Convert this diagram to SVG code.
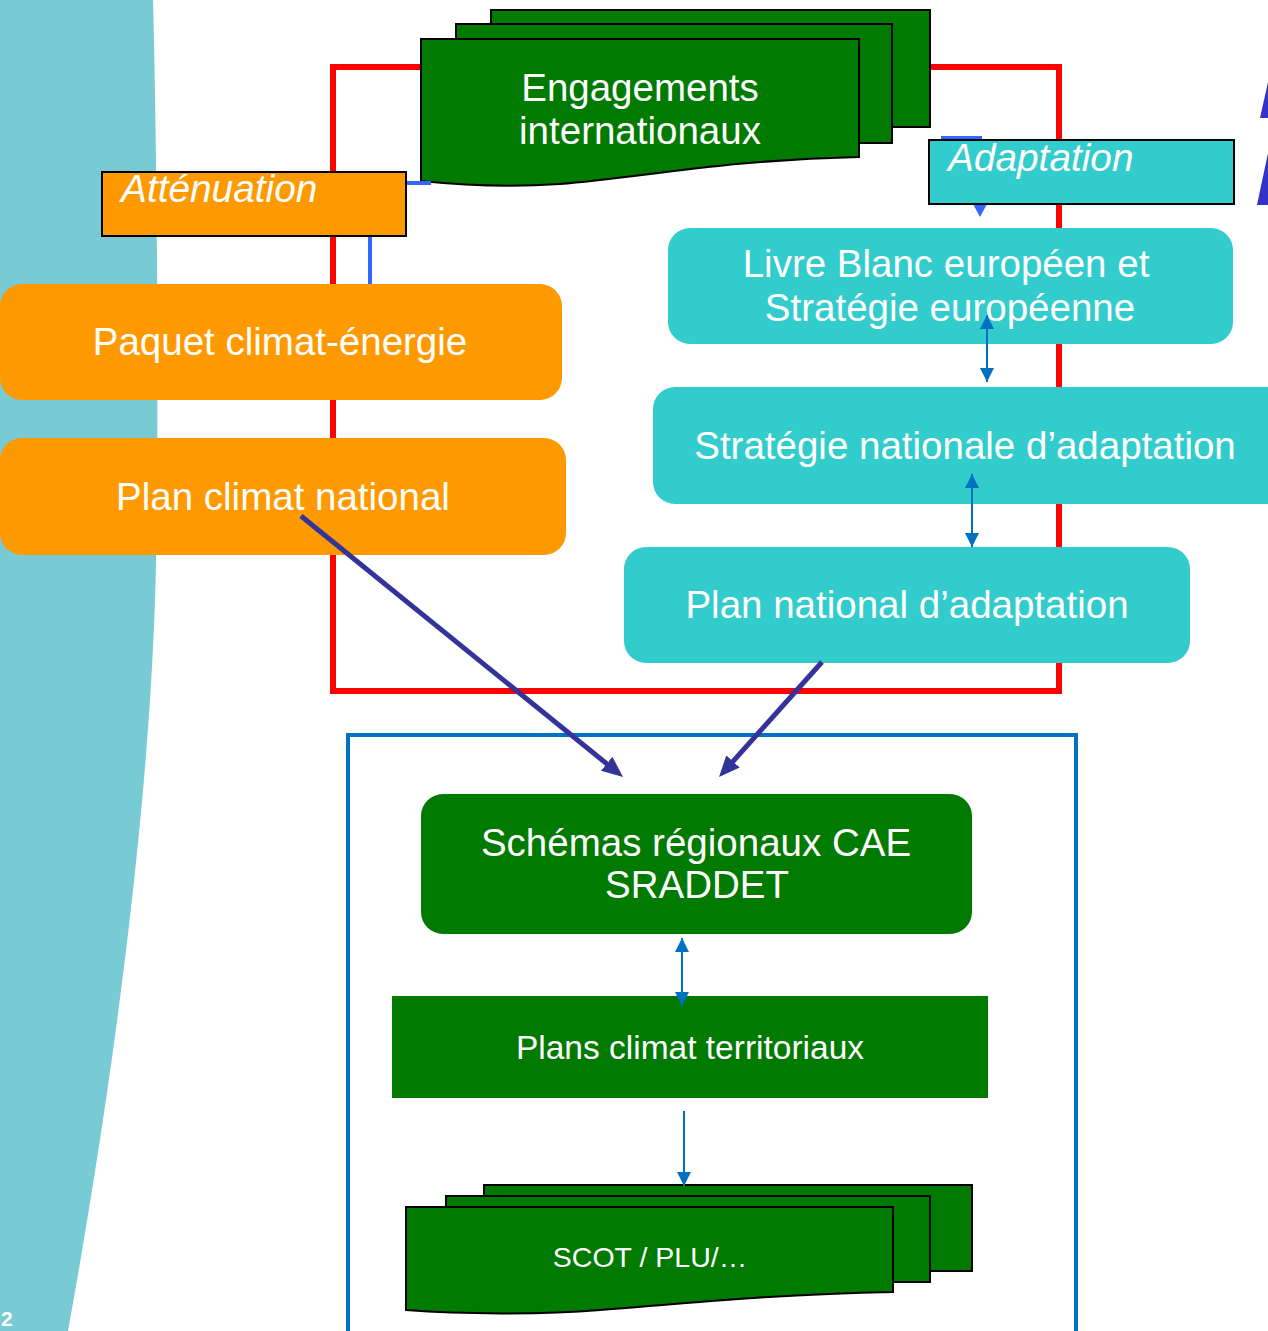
<svg xmlns="http://www.w3.org/2000/svg" width="1268" height="1331" viewBox="0 0 1268 1331">
<defs>
<style>
text{font-family:"Liberation Sans",Arial,sans-serif;fill:#fff}
.t38{font-size:38.5px}
.lbl{font-size:38.8px;font-style:italic}
.orange{fill:#FF9900}
.cyan{fill:#33CCCC}
.green{fill:#007A00}
.card{fill:#007A00;stroke:#000;stroke-width:2}
.thin{stroke:#0070C0;stroke-width:2;fill:none}
.dark{stroke:#333399;stroke-width:5;fill:none}
.elbow{stroke:#3366FF;stroke-width:4;fill:none}
</style>
<marker id="mThin" markerUnits="userSpaceOnUse" markerWidth="14" markerHeight="14" refX="14" refY="7" orient="auto-start-reverse"><path d="M0,0 L14,7 L0,14 Z" fill="#0070C0"/></marker>
<marker id="mDark" markerUnits="userSpaceOnUse" markerWidth="22" markerHeight="18" refX="9" refY="9" orient="auto"><path d="M0,0 L21,9 L0,18 Z" fill="#333399"/></marker>
<marker id="mElbow" markerUnits="userSpaceOnUse" markerWidth="14" markerHeight="14" refX="1" refY="7" orient="auto"><path d="M0,0 L13,7 L0,14 Z" fill="#3366FF"/></marker>
</defs>
<rect width="1268" height="1331" fill="#fff"/>
<g id="background">
<path d="M0,0 L153,0 C157,150 159,400 156,560 C152,800 110,1100 68,1331 L0,1331 Z" fill="#78CAD4"/>
<text x="1" y="1326" style="font-size:21px;font-weight:bold">2</text>
<polygon points="1260,118 1268,82 1268,118" fill="#3333CC"/>
<polygon points="1257,205 1268,153 1268,205" fill="#3333CC"/>
</g>
<g id="frame-national">
<rect x="333" y="67" width="726" height="624" fill="none" stroke="#FF0000" stroke-width="6"/>
</g>
<g id="frame-territorial">
<rect x="348" y="735" width="728" height="620" fill="none" stroke="#0070C0" stroke-width="4"/>
</g>
<g id="engagements">
<rect class="card" x="491" y="10" width="439" height="117"/>
<rect class="card" x="456" y="24" width="436" height="119"/>
<path class="card" d="M421,39 H859 V157 C720,160 640,178 560,184 C500,188 450,184 421,181 Z"/>
<text class="t38" x="640" y="101" text-anchor="middle">Engagements</text>
<text class="t38" x="640" y="144" text-anchor="middle">internationaux</text>
</g>
<g id="paquet">
<rect class="orange" x="0" y="284" width="562" height="116" rx="22"/>
<text class="t38" x="280" y="355" text-anchor="middle">Paquet climat-énergie</text>
</g>
<g id="plan-climat">
<rect class="orange" x="0" y="438" width="566" height="117" rx="22"/>
<text class="t38" x="283" y="510" text-anchor="middle">Plan climat national</text>
</g>
<g id="livre-blanc">
<rect class="cyan" x="668" y="228" width="565" height="116" rx="22"/>
<text class="t38" x="946" y="277" text-anchor="middle">Livre Blanc européen et</text>
<text class="t38" x="950" y="321" text-anchor="middle">Stratégie européenne</text>
</g>
<g id="strategie-nationale">
<rect class="cyan" x="653" y="387" width="640" height="117" rx="22"/>
<text class="t38" x="965" y="459" text-anchor="middle">Stratégie nationale d’adaptation</text>
</g>
<g id="plan-national">
<rect class="cyan" x="624" y="547" width="566" height="116" rx="22"/>
<text class="t38" x="907" y="618" text-anchor="middle">Plan national d’adaptation</text>
</g>
<g id="schemas">
<rect class="green" x="421" y="794" width="551" height="140" rx="22"/>
<text class="t38" x="696" y="856" text-anchor="middle">Schémas régionaux CAE</text>
<text class="t38" x="697" y="898" text-anchor="middle">SRADDET</text>
</g>
<g id="plans-territoriaux">
<rect class="green" x="392" y="996" width="596" height="102"/>
<text x="690" y="1059" text-anchor="middle" style="font-size:33.5px">Plans climat territoriaux</text>
</g>
<g id="scot">
<rect class="card" x="484" y="1185" width="488" height="86"/>
<rect class="card" x="446" y="1196" width="484" height="86"/>
<path class="card" d="M406,1207 H893 V1292 C780,1294 700,1302 600,1310 C540,1315 460,1314 406,1310 Z"/>
<text x="650" y="1267" text-anchor="middle" style="font-size:28.5px">SCOT / PLU/…</text>
</g>
<g id="connectors">
<path class="elbow" d="M431,183 H370 V284"/>
<path class="elbow" d="M941,138 H980 V205" marker-end="url(#mElbow)"/>
<line class="thin" x1="987" y1="315" x2="987" y2="382" marker-start="url(#mThin)" marker-end="url(#mThin)"/>
<line class="thin" x1="972" y1="474" x2="972" y2="547" marker-start="url(#mThin)" marker-end="url(#mThin)"/>
<line class="thin" x1="682" y1="938" x2="682" y2="1006" marker-start="url(#mThin)" marker-end="url(#mThin)"/>
<line class="thin" x1="684" y1="1111" x2="684" y2="1186" marker-end="url(#mThin)"/>
<line class="dark" x1="301" y1="516" x2="613.7" y2="769.4" marker-end="url(#mDark)"/>
<line class="dark" x1="822" y1="662" x2="727" y2="768.1" marker-end="url(#mDark)"/>
</g>
<g id="label-attenuation">
<rect class="orange" x="102" y="172" width="304" height="64" stroke="#000" stroke-width="2"/>
<text class="lbl" x="121" y="202">Atténuation</text>
</g>
<g id="label-adaptation">
<rect class="cyan" x="929" y="140" width="305" height="64" stroke="#000" stroke-width="2"/>
<text class="lbl" x="948" y="171">Adaptation</text>
</g>
</svg>
